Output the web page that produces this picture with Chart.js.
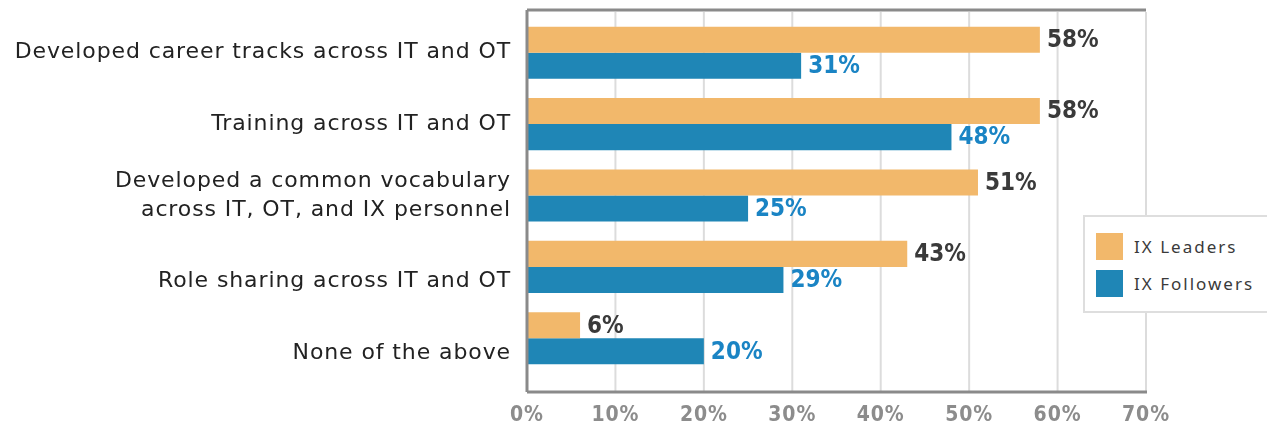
<!DOCTYPE html>
<html>
<head>
<meta charset="utf-8">
<script src="https://cdn.jsdelivr.net/npm/chart.js@4/dist/chart.umd.min.js"></script>
<style>
    html, body { margin:0; padding:0; background:#fff; }
    #wrap { position:relative; width:1267px; height:427px; }
    #legend {
        position:absolute; left:1083px; top:215px; width:200px; height:94px;
        background:#fff; border:2px solid #dedede;
        font-family:'Noto Sans', sans-serif; font-size:17px; color:#3a3a3a;
        letter-spacing:2px;
    }
    .lg-item { position:absolute; left:11px; display:flex; align-items:center; }
    .lg-box  { width:27px; height:27px; margin-right:11px; }
</style>
</head>
<body>
<div id="wrap">
    <canvas id="c" width="1267" height="427"></canvas>
    <div id="legend"></div>
</div>
<script>
// ── Data ───────────────────────────────────────
const CATEGORIES = [
    'Developed career tracks across IT and OT',
    'Training across IT and OT',
    ['Developed a common vocabulary', 'across IT, OT, and IX personnel'],
    'Role sharing across IT and OT',
    'None of the above',
];
const LEADERS   = [58, 58, 51, 43, 6];
const FOLLOWERS = [31, 48, 25, 29, 20];
const SERIES    = ['IX Leaders', 'IX Followers'];
const X_TICKS   = [0, 10, 20, 30, 40, 50, 60, 70];

const ORANGE = '#F2B86B';
const BLUE   = '#1F86B6';
const LABEL_COLORS = ['#3a3a3a', '#1a84c4'];
const NARROW = "'DejaVu Sans Condensed', 'Liberation Sans Narrow', sans-serif";

// the last two labels sit a little lower in the original, next to the blue bar
const LOWERED = [3, 4];

// ── Frame + gridlines drawn through the x scale ──
const framePlugin = {
    id: 'frame',
    beforeDraw(chart) {
        // wider tracking for the category labels (Gotham-like look)
        chart.ctx.letterSpacing = '0.9px';
    },
    beforeDatasetsDraw(chart) {
        const { ctx, chartArea: a, scales: { x } } = chart;
        const top = a.top - 7, bot = a.bottom + 18;
        ctx.save();
        ctx.strokeStyle = '#dcdcdc';
        ctx.lineWidth = 2;
        X_TICKS.slice(1).forEach(v => {
            const px = x.getPixelForValue(v);
            ctx.beginPath();
            ctx.moveTo(px, top + 2);
            ctx.lineTo(px, bot);
            ctx.stroke();
        });
        ctx.restore();
    },
    afterDatasetsDraw(chart) {
        const { ctx, chartArea: a, scales: { x } } = chart;
        const top = a.top - 7, bot = a.bottom + 18;
        const l = x.getPixelForValue(0), r = x.getPixelForValue(70);
        ctx.save();
        ctx.strokeStyle = '#8a8a8a';
        ctx.lineWidth = 3;
        ctx.beginPath();
        ctx.moveTo(l, top); ctx.lineTo(r, top);
        ctx.moveTo(l, top); ctx.lineTo(l, bot);
        ctx.moveTo(l, bot); ctx.lineTo(r + 1, bot);
        ctx.stroke();

        // value labels at bar ends
        ctx.letterSpacing = '0px';
        ctx.font = `bold 24px ${NARROW}`;
        ctx.textBaseline = 'middle';
        ctx.textAlign = 'left';
        chart.data.datasets.forEach((ds, di) => {
            ctx.fillStyle = LABEL_COLORS[di];
            chart.getDatasetMeta(di).data.forEach((bar, i) => {
                ctx.fillText(ds.data[i] + '%', bar.x + 7, bar.y + 1);
            });
        });
        ctx.restore();
    },
};

new Chart(document.getElementById('c'), {
    type: 'bar',
    data: {
        labels: CATEGORIES,
        datasets: [
            { label: SERIES[0], data: LEADERS,   backgroundColor: ORANGE },
            { label: SERIES[1], data: FOLLOWERS, backgroundColor: BLUE },
        ],
    },
    options: {
        indexAxis: 'y',
        responsive: false,
        animation: false,
        categoryPercentage: 0.73,
        barPercentage: 1.0,
        layout: { padding: { top: 17, right: 121, left: 0, bottom: 0 } },
        plugins: {
            legend:  { display: false },
            tooltip: { enabled: false },
        },
        scales: {
            x: {
                min: 0, max: 70,
                afterBuildTicks: s => { s.ticks = X_TICKS.map(v => ({ value: v })); },
                afterFit: s => { s.height = 53; s.paddingLeft = 0; s.paddingRight = 0; },
                grid:   { display: false, drawTicks: false },
                border: { display: false },
                ticks: {
                    padding: 29,
                    color: '#8c8c8c',
                    font: { family: NARROW, size: 21, weight: 'bold' },
                    callback: v => v + '%',
                },
            },
            y: {
                afterFit: s => { s.width = 527; s.paddingTop = 0; s.paddingBottom = 0; },
                grid:   { display: false, drawTicks: false },
                border: { display: false },
                ticks: {
                    padding: 16,
                    color: '#222',
                    font: { family: "'DejaVu Sans', sans-serif", size: 22, lineHeight: 1.33 },
                    callback: (v, i) => LOWERED.includes(i) ? ['', CATEGORIES[i]] : CATEGORIES[i],
                },
            },
        },
    },
    plugins: [framePlugin],
});

// ── HTML legend ────────────────────────────────
const legendEl = document.getElementById('legend');
legendEl.innerHTML = SERIES.map((s, i) => `
    <div class="lg-item" style="top:${16 + i * 37}px">
        <div class="lg-box" style="background:${[ORANGE, BLUE][i]}"></div>
        <span>${s}</span>
    </div>`).join('');
</script>
</body>
</html>
